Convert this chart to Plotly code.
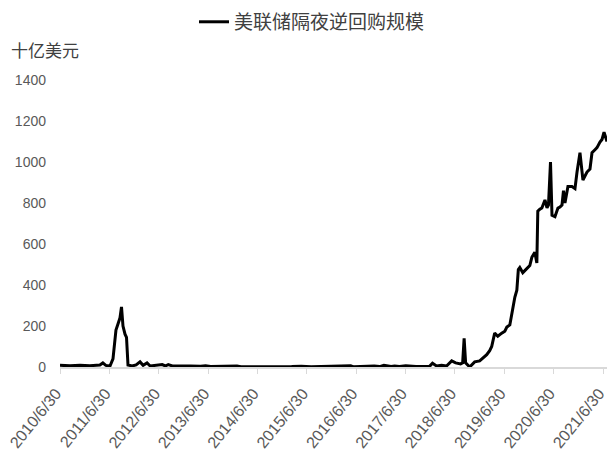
import plotly.graph_objects as go

series_name = "美联储隔夜逆回购规模"
y_unit = "十亿美元"

dates = [
    "2010-06-30", "2010-09-12", "2010-11-25", "2011-02-06", "2011-04-21", "2011-05-13",
    "2011-06-04", "2011-07-05", "2011-07-27", "2011-08-18", "2011-09-02", "2011-09-17",
    "2011-09-28", "2011-10-09", "2011-10-24", "2011-11-04", "2011-11-15", "2011-12-15",
    "2012-01-14", "2012-02-12", "2012-03-06", "2012-04-04", "2012-04-27", "2012-06-03",
    "2012-07-25", "2012-08-17", "2012-09-08", "2012-10-08", "2012-12-07", "2013-01-13",
    "2013-02-19", "2013-05-05", "2013-06-11", "2013-07-18", "2013-10-01", "2014-01-29",
    "2014-02-28", "2014-06-19", "2014-08-10", "2015-03-10", "2015-05-20", "2015-08-01",
    "2016-01-15", "2016-05-20", "2016-06-10", "2016-07-01", "2016-11-10", "2016-12-20",
    "2017-01-20", "2017-03-15", "2017-04-10", "2017-05-15", "2017-07-01", "2017-09-15",
    "2017-12-24", "2018-01-15", "2018-02-14", "2018-03-23", "2018-04-29", "2018-06-06",
    "2018-07-05", "2018-08-11", "2018-08-26", "2018-09-06", "2018-09-17", "2018-10-17",
    "2018-11-01", "2018-11-23", "2018-12-30", "2019-01-29", "2019-02-20", "2019-03-14",
    "2019-03-29", "2019-04-20", "2019-05-13", "2019-06-11", "2019-07-04", "2019-07-19",
    "2019-08-10", "2019-08-25", "2019-09-05", "2019-09-16", "2019-10-01", "2019-10-12",
    "2019-10-23", "2019-11-14", "2019-11-29", "2019-12-14", "2020-01-05", "2020-01-20",
    "2020-02-11", "2020-02-26", "2020-03-04", "2020-03-19", "2020-04-03", "2020-04-26",
    "2020-05-11", "2020-05-22", "2020-06-06", "2020-06-17", "2020-07-09", "2020-07-31",
    "2020-08-15", "2020-08-30", "2020-09-10", "2020-09-21", "2020-10-13", "2020-11-12",
    "2020-12-04", "2020-12-19", "2021-01-10", "2021-02-01", "2021-03-03", "2021-03-25",
    "2021-04-09", "2021-05-01", "2021-05-16", "2021-06-07", "2021-06-22", "2021-07-07",
    "2021-07-18", "2021-07-29",
]
values = [
    8, 6, 8, 6, 10, 20,
    8, 5, 40, 180, 210, 240,
    293, 200, 160, 145, 10, 5,
    10, 25, 8, 20, 5, 8,
    12, 5, 12, 5, 6, 3,
    5, 4, 6, 2, 2, 5,
    1, 3, 1, 2, 4, 1,
    2, 6, 1, 2, 5, 2,
    8, 2, 5, 3, 6, 2,
    3, 18, 5, 8, 5, 30,
    20, 15, 20, 140, 20, 0,
    10, 25, 30, 45, 60, 80,
    100, 165, 150, 165, 175, 195,
    205, 260, 310, 340, 375, 475,
    485, 460, 470, 480, 495, 535,
    560, 507, 760, 770, 776, 815,
    776, 790, 1000, 740, 733, 775,
    780, 790, 860, 800, 880, 880,
    870, 950, 1045, 912, 951, 966,
    1045, 1060, 1070, 1097, 1110, 1145,
    1120, 1100,
]

tick_dates = ["%d-06-30" % y for y in range(2010, 2022)]
tick_labels = ["%d/6/30" % y for y in range(2010, 2022)]
y_ticks = [0, 200, 400, 600, 800, 1000, 1200, 1400]

grey = "#595959"
cjk = "Noto Sans CJK SC"
num_font = "Liberation Sans Narrow, Liberation Sans, Arial"

fig = go.Figure()
fig.add_trace(go.Scatter(
    x=dates, y=values, mode="lines", name=series_name,
    line=dict(color="#000000", width=3),
))

fig.update_layout(
    width=608, height=457,
    margin=dict(l=60, r=1, t=80, b=90, autoexpand=False),
    paper_bgcolor="white", plot_bgcolor="white",
    showlegend=True,
    legend=dict(
        orientation="h", x=0.245, xanchor="left", y=0.952, yanchor="middle",
        yref="container", font=dict(family=cjk, size=19, color="#404040"),
        itemwidth=30,
    ),
    xaxis=dict(
        type="date",
        range=["2010-06-30", "2021-07-29"],
        tickvals=tick_dates, ticktext=tick_labels,
        tickangle=-51,
        ticklabeloverflow="allow",
        ticklabelshift=-4, ticklabelstandoff=4,
        tickfont=dict(family=num_font, size=16, color=grey),
        showgrid=False, zeroline=False,
        showline=True, linecolor="#d9d9d9", linewidth=1.5,
        ticks="outside", ticklen=5, tickcolor="#d9d9d9",
    ),
    yaxis=dict(
        range=[0, 1400],
        tickvals=y_ticks,
        tickfont=dict(family=num_font, size=14, color=grey),
        showgrid=False, zeroline=False, showline=False,
        ticks="", ticklabelstandoff=13,
    ),
    annotations=[dict(
        text=y_unit, xref="paper", yref="paper", x=-0.093, y=1.0,
        xanchor="left", yanchor="bottom", yshift=16, showarrow=False,
        font=dict(family=cjk, size=17, color="#404040"),
    )],
)

fig.write_html(
    "out.html",
    config={"displayModeBar": False},
    post_script="document.body.style.margin='0';document.body.style.overflow='hidden';",
)
